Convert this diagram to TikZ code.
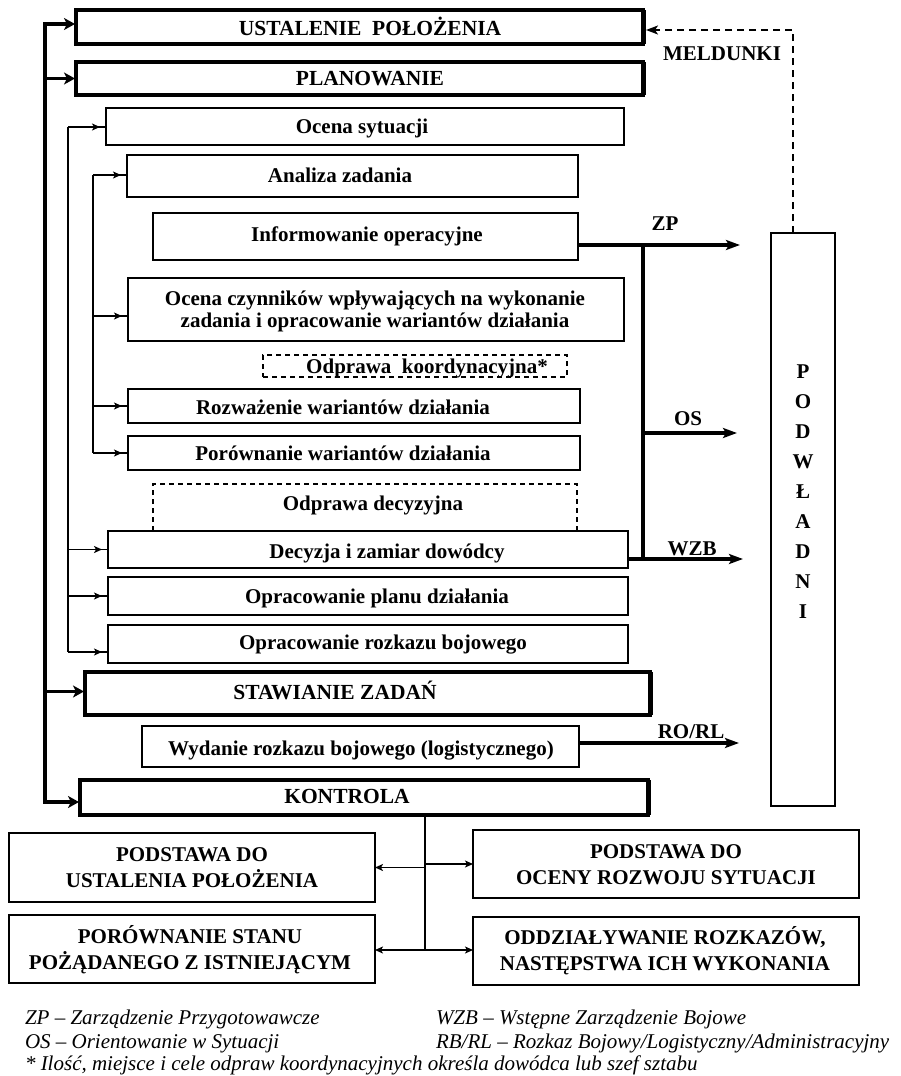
\documentclass[tikz,border=0pt]{standalone}
\usepackage{fontspec}
\setmainfont{Liberation Serif}
\usetikzlibrary{arrows.meta,decorations.markings}

% box from its corners: style, name, x1, y1, x2, y2
\newcommand\mkbox[6]{%
  \node[#1, minimum width={#5-#3}, minimum height={#6-#4}] (#2)
    at ({(#3+#5)/2},{(#4+#6)/2}) {};}

\tikzset{
  every node/.style={inner sep=0pt, outer sep=0pt},
  stage/.style={draw, line width=3.2pt},
  stepbox/.style={draw, line width=1.8pt},
  resultbox/.style={draw, line width=2pt},
  notebox/.style={draw, line width=1.5pt, dash pattern=on 5pt off 4pt},
  notelines/.style={line width=1.5pt, dash pattern=on 5pt off 4pt},
  txt/.style={font=\fontsize{21}{24}\selectfont\bfseries, text height=14pt, text depth=0pt},
  txtbig/.style={font=\fontsize{21.5}{24}\selectfont\bfseries, text height=14pt, text depth=0pt},
  txttwo/.style={font=\fontsize{21}{22}\selectfont\bfseries, align=center},
  txtres/.style={font=\fontsize{21}{26}\selectfont\bfseries, align=center},
  legend/.style={font=\fontsize{21}{24}\selectfont\itshape, anchor=base west},
  bus/.style={line width=3.5pt},
  feed/.style={line width=1.5pt},
  bustip/.style={{Stealth[length=11pt,width=12pt,inset=3pt]}-{Stealth[length=11pt,width=12pt,inset=3pt]}},
  busarrow/.style={line width=3.5pt, -{Stealth[length=11pt,width=12pt,inset=3pt]}, shorten >=1pt},
  bigarrow/.style={line width=3.5pt, -{Stealth[length=14pt,width=10pt,inset=3pt]}},
  smallin/.style={line width=1.5pt, postaction=decorate,
    decoration={markings, mark=at position -6pt with {\arrow{Stealth[length=8pt,width=7pt,inset=2pt]}}}},
  thinarrow/.style={line width=1.5pt, -{Stealth[length=8pt,width=7pt,inset=2pt]}},
  report/.style={line width=1.8pt, dash pattern=on 7pt off 5pt, -{Stealth[length=12pt,width=9pt,inset=3pt]}},
  shade/.style={line width=2pt},
}

\begin{document}
\begin{tikzpicture}[x=1pt,y=-1pt]
\useasboundingbox[fill=white] (0,0) rectangle (901,1076);

% ---- main stages and planning steps
\mkbox{stage}{ustal}{76}{10}{643}{44}
\mkbox{stage}{plan}{76}{62}{643}{95}
\mkbox{stepbox}{ocsyt}{106}{108}{624}{145}
\mkbox{stepbox}{anal}{127}{155}{578}{197}
\mkbox{stepbox}{info}{153}{213}{578}{260}
\mkbox{stepbox}{ocz}{128}{278}{624}{341}
\mkbox{notebox}{okoord}{263}{355}{567}{377}
\mkbox{stepbox}{rozw}{128}{389}{580}{423}
\mkbox{stepbox}{porw}{128}{436}{580}{470}
\mkbox{}{odecyz}{153}{484}{577}{531}
\mkbox{stepbox}{decyz}{108}{531}{628}{568}
\mkbox{stepbox}{plandz}{108}{577}{628}{615}
\mkbox{stepbox}{rozk}{108}{625}{628}{663}
\mkbox{stage}{staw}{85}{672}{650}{715}
\mkbox{stepbox}{wyd}{142}{726}{579}{767}
\mkbox{stage}{kontr}{80}{780}{648}{815}
\mkbox{stepbox}{podw}{771}{233}{835}{806}

% heavier right edge of the main stages
\foreach \b in {ustal,plan,staw,kontr}
  \draw[shade] ([xshift=1.8pt]\b.north east) -- ([xshift=1.8pt]\b.south east);

% ---- results of control
\mkbox{resultbox}{podst1}{9}{833}{375}{902}
\mkbox{resultbox}{porown}{9}{915}{375}{983}
\mkbox{resultbox}{podst2}{473}{830}{859}{898}
\mkbox{resultbox}{oddz}{473}{917}{859}{985}

% decision briefing: open towards the decision box
\draw[notelines] (odecyz.south west) -- (odecyz.north west) -- (odecyz.north east) -- (odecyz.south east);

% ---- texts
\node[txtbig] (t-ustal) at (370,28) {USTALENIE\ \ POŁOŻENIA};
\node[txtbig] (t-plan) at (370,78) {PLANOWANIE};
\node[txt] (t-ocsyt) at (362,126) {Ocena sytuacji};
\node[txt] (t-anal) at (340,175) {Analiza zadania};
\node[txt] (t-info) at (367,234) {Informowanie operacyjne};
\node[txttwo] (t-ocz) at (375,311) {Ocena czynników wpływających na wykonanie\\zadania i opracowanie wariantów działania};
\node[txt] (t-okoord) at (427,366) {Odprawa\ \ koordynacyjna*};
\node[txt] (t-rozw) at (343,407) {Rozważenie wariantów działania};
\node[txt] (t-porw) at (343,453) {Porównanie wariantów działania};
\node[txt] (t-odecyz) at (373,503) {Odprawa decyzyjna};
\node[txt] (t-decyz) at (387,551) {Decyzja i zamiar dowódcy};
\node[txt] (t-plandz) at (377,596) {Opracowanie planu działania};
\node[txt] (t-rozk) at (383,642) {Opracowanie rozkazu bojowego};
\node[txtbig] (t-staw) at (335,692) {STAWIANIE ZADAŃ};
\node[txt] (t-wyd) at (361,748) {Wydanie rozkazu bojowego (logistycznego)};
\node[txtbig] (t-kontr) at (347,796) {KONTROLA};
\node[font=\fontsize{21}{30}\selectfont\bfseries, align=center] (t-podw) at (803,492)
  {P\\O\\D\\W\\Ł\\A\\D\\N\\I};

\node[txtres] (t-podst1) at (192,868) {PODSTAWA DO\\USTALENIA POŁOŻENIA};
\node[txtres] (t-porown) at (190,950) {PORÓWNANIE STANU\\POŻĄDANEGO Z ISTNIEJĄCYM};
\node[txtres] (t-podst2) at (666,865) {PODSTAWA DO\\OCENY ROZWOJU SYTUACJI};
\node[txtres] (t-oddz) at (665,951) {ODDZIAŁYWANIE ROZKAZÓW,\\NASTĘPSTWA ICH WYKONANIA};

% ---- main bus on the left
\coordinate (busTop) at (45,24);
\coordinate (busBot) at (45,802);
\draw[bus, bustip, shorten <=1pt, shorten >=1pt]
  (busTop -| ustal.west) -- (busTop) -- (busBot) -- (busBot -| kontr.west);
\draw[busarrow] (busTop |- plan.west) -- (plan.west);
\draw[busarrow] ([yshift=2pt]busTop |- staw.west) -- ([yshift=2pt]staw.west);

% ---- feeders of the planning steps
\coordinate (fAtop) at (68,127);
\coordinate (fAbot) at (68,652);
\coordinate (fBtop) at (93,175);
\coordinate (fBbot) at (93,453);
\draw[feed] (fAtop) -- (fAbot);
\draw[feed] (fBtop) -- (fBbot);
\draw[smallin] (fAtop) -- (fAtop -| ocsyt.west);
\draw[smallin] (fAtop |- decyz.west) -- (decyz.west);
\draw[smallin] (fAtop |- plandz.west) -- (plandz.west);
\draw[smallin] (fAbot) -- (fAbot -| rozk.west);
\draw[smallin] (fBtop) -- (fBtop -| anal.west);
\draw[smallin] ([yshift=-6.5pt]fBtop |- ocz.west) -- ([yshift=-6.5pt]ocz.west);
\draw[smallin] (fBtop |- rozw.west) -- (rozw.west);
\draw[smallin] (fBbot) -- (fBbot -| porw.west);

% ---- orders to subordinates
\coordinate (trTop) at (643,245);
\coordinate (trBot) at (643,559);
\coordinate (zpEnd) at (740,245);
\coordinate (osEnd) at (737,433);
\coordinate (wzbEnd) at (743,559);
\coordinate (rorlEnd) at (739,743);
\draw[bus] (trTop) -- (trBot);
\draw[bigarrow] (info.east |- zpEnd) -- (zpEnd);
\draw[bigarrow] (trTop |- osEnd) -- (osEnd);
\draw[bigarrow] (decyz.east |- wzbEnd) -- (wzbEnd);
\draw[bigarrow] (wyd.east |- rorlEnd) -- (rorlEnd);
\node[txt] (l-zp) at (665,223) {ZP};
\node[txt] (l-os) at (688,418) {OS};
\node[txt] (l-wzb) at (692,548) {WZB};
\node[txt] (l-rorl) at (691,731) {RO/RL};

% ---- reports back
\coordinate (meldC) at (793,30);
\draw[report] (podw.north -| meldC) -- (meldC) -- ([xshift=3pt]ustal.east |- meldC);
\node[txt] (l-meld) at (722,53) {MELDUNKI};

% ---- control outcomes
\coordinate (kx) at (425,950);
\draw[feed] (kontr.south -| kx) -- (kx);
\draw[thinarrow] (kx |- podst1.east) -- (podst1.east);
\draw[thinarrow] (kx |- podst2.west) -- (podst2.west);
\draw[thinarrow] (kx) -- (kx -| porown.east);
\draw[thinarrow] (kx) -- (kx -| oddz.west);

% ---- legend
\node[legend] (g-zp) at (25,1024) {ZP – Zarządzenie Przygotowawcze};
\node[legend] (g-os) at (25,1048) {OS – Orientowanie w Sytuacji};
\node[legend] (g-note) at (25,1070) {* Ilość, miejsce i cele odpraw koordynacyjnych określa dowódca lub szef sztabu};
\node[legend] (g-wzb) at (436,1024) {WZB – Wstępne Zarządzenie Bojowe};
\node[legend] (g-rbrl) at (436,1048) {RB/RL – Rozkaz Bojowy/Logistyczny/Administracyjny};
\end{tikzpicture}
\end{document}
